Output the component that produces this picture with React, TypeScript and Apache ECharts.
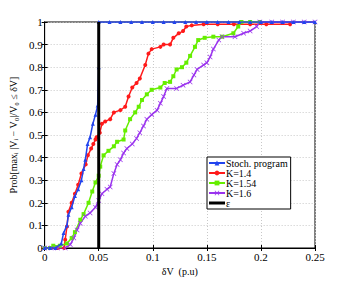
import React, { useEffect, useRef } from "react";
import * as echarts from "echarts";

const xTicks = [0, 0.05, 0.1, 0.15, 0.2, 0.25];
const yTicks = [0, 0.1, 0.2, 0.3, 0.4, 0.5, 0.6, 0.7, 0.8, 0.9, 1];

const stochData: number[][] = [
  [0, 0], [0.005, 0], [0.01, 0], [0.0154, 0.02], [0.0175, 0.066], [0.0206, 0.1], [0.022, 0.147],
  [0.025, 0.18], [0.028, 0.23], [0.031, 0.26], [0.034, 0.3], [0.036, 0.35], [0.0376, 0.39],
  [0.0397, 0.46], [0.042, 0.49], [0.0446, 0.55], [0.047, 0.59], [0.049, 0.63], [0.05, 0.8],
  [0.05, 1], [0.06, 1], [0.07, 1], [0.08, 1], [0.09, 1], [0.1, 1], [0.11, 1], [0.12, 1],
  [0.13, 1], [0.14, 1], [0.15, 1], [0.16, 1], [0.17, 1], [0.18, 1], [0.19, 1], [0.2, 1],
  [0.21, 1], [0.22, 1], [0.23, 1], [0.24, 1], [0.25, 1],
];

const k14Data: number[][] = [
  [0, 0], [0.006, 0], [0.012, 0], [0.018, 0], [0.019, 0.037], [0.0206, 0.095], [0.022, 0.16],
  [0.025, 0.2], [0.028, 0.24], [0.031, 0.28], [0.034, 0.33], [0.038, 0.37], [0.04, 0.41],
  [0.043, 0.44], [0.045, 0.46], [0.047, 0.48], [0.048, 0.49], [0.051, 0.51], [0.053, 0.55],
  [0.056, 0.56], [0.0606, 0.57], [0.064, 0.6], [0.07, 0.61], [0.0745, 0.625], [0.0776, 0.67],
  [0.081, 0.71], [0.085, 0.73], [0.088, 0.75], [0.093, 0.81], [0.096, 0.86], [0.099, 0.88],
  [0.107, 0.89], [0.11, 0.9], [0.116, 0.9], [0.119, 0.93], [0.124, 0.95], [0.128, 0.96],
  [0.131, 0.98], [0.136, 0.985], [0.147, 0.99], [0.16, 0.99], [0.175, 0.99], [0.19, 0.99],
  [0.205, 0.99], [0.227, 0.99],
];

const k154Data: number[][] = [
  [0, 0], [0.005, 0], [0.008, 0.01], [0.014, 0.01], [0.0206, 0.02], [0.025, 0.044], [0.028, 0.07],
  [0.033, 0.125], [0.036, 0.15], [0.0406, 0.2], [0.044, 0.25], [0.047, 0.29], [0.05, 0.32],
  [0.0514, 0.36], [0.0545, 0.41], [0.059, 0.43], [0.064, 0.45], [0.067, 0.47], [0.073, 0.48],
  [0.0745, 0.52], [0.079, 0.57], [0.0837, 0.6], [0.087, 0.625], [0.09, 0.655], [0.0945, 0.68],
  [0.099, 0.7], [0.107, 0.71], [0.111, 0.73], [0.116, 0.735], [0.119, 0.76], [0.122, 0.79],
  [0.127, 0.8], [0.131, 0.82], [0.1345, 0.85], [0.139, 0.89], [0.142, 0.92], [0.148, 0.93],
  [0.156, 0.935], [0.164, 0.935], [0.1745, 0.95], [0.179, 0.98], [0.182, 1], [0.19, 1], [0.199, 1],
];

const k16Data: number[][] = [
  [0, 0], [0.006, 0], [0.012, 0], [0.019, 0], [0.0237, 0.015], [0.027, 0.044], [0.03, 0.08],
  [0.033, 0.11], [0.0376, 0.14], [0.042, 0.155], [0.047, 0.18], [0.05, 0.21], [0.053, 0.24],
  [0.0576, 0.26], [0.0606, 0.27], [0.064, 0.33], [0.067, 0.37], [0.07, 0.39], [0.073, 0.42],
  [0.076, 0.44], [0.081, 0.46], [0.085, 0.485], [0.088, 0.51], [0.0914, 0.54], [0.0945, 0.57],
  [0.099, 0.59], [0.104, 0.61], [0.107, 0.64], [0.11, 0.67], [0.113, 0.706], [0.122, 0.706],
  [0.128, 0.72], [0.1345, 0.735], [0.138, 0.765], [0.141, 0.79], [0.147, 0.81], [0.15, 0.82],
  [0.153, 0.845], [0.156, 0.88], [0.161, 0.92], [0.164, 0.935], [0.176, 0.935], [0.184, 0.95],
  [0.19, 0.96], [0.196, 0.98], [0.199, 1], [0.21, 1], [0.22, 1], [0.23, 1], [0.24, 1], [0.25, 1],
];

const epsilon = 0.05;
const epsData: number[][] = [[epsilon, 0], [epsilon, 1]];

const seriesNames = ["Stoch. program", "K=1.4", "K=1.54", "K=1.6", "ε"];

const crossSymbol = "path://M0,1L1,0L5,4L9,0L10,1L6,5L10,9L9,10L5,6L1,10L0,9L4,5Z";

const SERIF = "Liberation Serif";

export default function App() {
  const ref = useRef<HTMLDivElement>(null);
  useEffect(() => {
    if (!ref.current) return;
    const chart = echarts.init(ref.current, null, { renderer: "svg" });
    const mkLine = (name: string, data: number[][], color: string, symbol: string, z: number, symbolSize = 4) => ({
      name,
      type: "line",
      data,
      symbol,
      symbolSize,
      showSymbol: true,
      color,
      lineStyle: { color, width: 1.5 },
      itemStyle: { color },
      z,
    });
    chart.setOption({
      animation: false,
      backgroundColor: "#fff",
      grid: { left: 44, right: 32, top: 22, bottom: 37, show: true, borderColor: "#000", borderWidth: 1, backgroundColor: "transparent" },
      xAxis: [
        {
          type: "value",
          min: 0,
          max: 0.25,
          interval: 0.05,
          name: "δV  (p.u)",
          nameLocation: "middle",
          nameGap: 14,
          nameTextStyle: { fontFamily: SERIF, fontSize: 10, color: "#000" },
          axisLine: { show: true, onZero: false, lineStyle: { color: "#000", width: 1 } },
          axisTick: { show: true, inside: true, length: 3, lineStyle: { color: "#000" } },
          axisLabel: {
            fontFamily: SERIF,
            fontSize: 11,
            color: "#000",
            margin: 3,
            formatter: (v: number) => String(parseFloat(v.toFixed(2))),
          },
          splitLine: { show: true, lineStyle: { color: "#c8c8c8", type: [1, 2], width: 1 } },
        },
        {
          type: "value",
          position: "top",
          min: 0,
          max: 0.25,
          interval: 0.05,
          axisLine: { show: true, lineStyle: { color: "#000" } },
          axisTick: { show: true, inside: true, length: 3, lineStyle: { color: "#000" } },
          axisLabel: { show: false },
          splitLine: { show: false },
        },
      ],
      yAxis: [
        {
          type: "value",
          min: 0,
          max: 1,
          interval: 0.1,
          name: "Prob[maxᵢ |Vᵢ − V₀|/V₀ ≤ δV]",
          nameLocation: "middle",
          nameGap: 18,
          nameTextStyle: { fontFamily: SERIF, fontSize: 10, color: "#000" },
          axisLine: { show: true, lineStyle: { color: "#000", width: 1 } },
          axisTick: { show: true, inside: true, length: 3, lineStyle: { color: "#000" } },
          axisLabel: {
            fontFamily: SERIF,
            fontSize: 11,
            color: "#000",
            margin: 2,
            formatter: (v: number) => String(parseFloat(v.toFixed(1))),
          },
          splitLine: { show: true, lineStyle: { color: "#c8c8c8", type: [1, 2], width: 1 } },
        },
        {
          type: "value",
          position: "right",
          min: 0,
          max: 1,
          interval: 0.1,
          axisLine: { show: true, lineStyle: { color: "#000" } },
          axisTick: { show: true, inside: true, length: 3, lineStyle: { color: "#000" } },
          axisLabel: { show: false },
          splitLine: { show: false },
        },
      ],
      legend: {
        orient: "vertical",
        left: 207,
        top: 157,
        backgroundColor: "#fff",
        borderColor: "#000",
        borderWidth: 1,
        borderRadius: 0,
        padding: [1, 3, 1, 1],
        itemGap: 0,
        itemWidth: 16,
        itemHeight: 6,
        textStyle: { fontFamily: SERIF, fontSize: 10, color: "#000", padding: [0, 0, 0, -4], lineHeight: 9.5, height: 9.5 },
        data: [
          seriesNames[0],
          seriesNames[1],
          seriesNames[2],
          seriesNames[3],
          { name: seriesNames[4], icon: "path://M0,0L16,0L16,3L0,3Z", itemStyle: { color: "#000" } },
        ],
      },
      series: [
        mkLine(seriesNames[1], k14Data, "#ff1a1a", "circle", 3),
        mkLine(seriesNames[2], k154Data, "#66ee00", "rect", 3),
        mkLine(seriesNames[3], k16Data, "#9a33ee", crossSymbol, 3, 5),
        mkLine(seriesNames[0], stochData, "#2244ee", "triangle", 4),
        {
          name: seriesNames[4],
          type: "line",
          data: epsData,
          symbol: "none",
          color: "#000",
          lineStyle: { color: "#000", width: 3 },
          itemStyle: { color: "#000" },
          z: 5,
        },
      ],
    });
    return () => chart.dispose();
  }, []);
  return <div ref={ref} style={{ width: 347, height: 285, marginLeft: -8, marginTop: -8 }} />;
}
